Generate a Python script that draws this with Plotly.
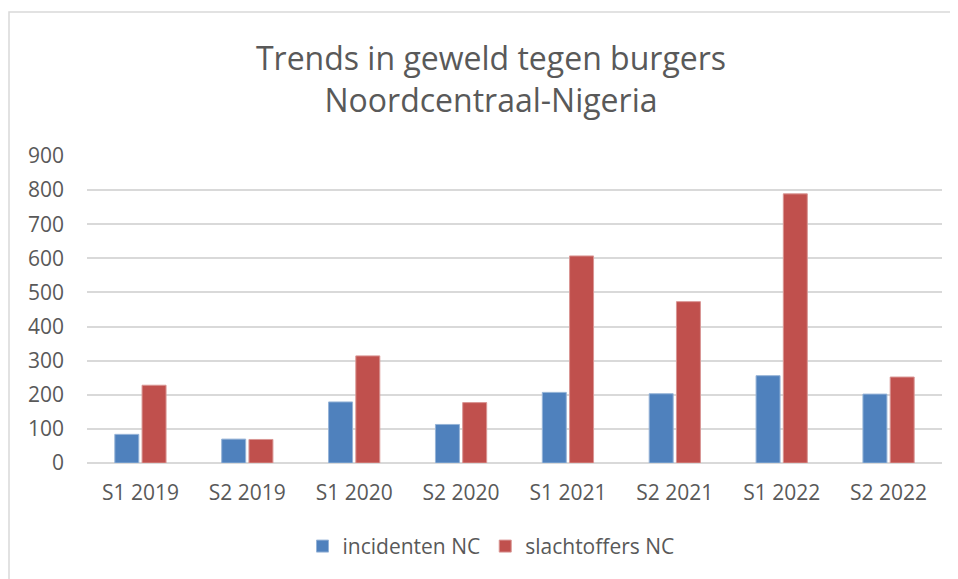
import plotly.graph_objects as go

categories = ["S1 2019", "S2 2019", "S1 2020", "S2 2020", "S1 2021", "S2 2021", "S1 2022", "S2 2022"]
incidenten = [84, 70, 179, 113, 207, 203, 256, 202]
slachtoffers = [228, 69, 314, 177, 607, 473, 789, 252]
y_ticks = [0, 100, 200, 300, 400, 500, 600, 700, 800, 900]

# page body has an 8px margin, so the figure is drawn 8px smaller and left/top targets shifted
OFF = 8
W, H = 958 - OFF, 579 - OFF
L, R, T, B = 87 - OFF, 16, 156 - OFF, 114
pw, ph = W - L - R, H - T - B


def py(y_screen):
    """paper y for a screen y (reference coordinates)"""
    return ((T + ph) - (y_screen - OFF)) / ph


def px(x_screen):
    return ((x_screen - OFF) - L) / pw


fig = go.Figure()
fig.add_trace(go.Bar(name="incidenten NC", x=categories, y=incidenten,
                     marker=dict(color="#4F81BD", line=dict(color="#95B3D7", width=1))))
fig.add_trace(go.Bar(name="slachtoffers NC", x=categories, y=slachtoffers,
                     marker=dict(color="#C0504D", line=dict(color="#D99694", width=1))))

font_family = "Open Sans"
fig.update_layout(
    width=W, height=H,
    margin=dict(l=L, r=R, t=T, b=B),
    paper_bgcolor="white", plot_bgcolor="white",
    barmode="group", bargap=0.49, bargroupgap=0.12,
    font=dict(family=font_family, color="#595959", size=21),
    title=dict(text="Trends in geweld tegen burgers<br>Noordcentraal-Nigeria",
               x=(491 - OFF) / W, xanchor="center", xref="container",
               y=1 - (79 - OFF - 9) / H, yanchor="middle", yref="container",
               font=dict(family=font_family, size=32, color="#595959")),
    legend=dict(orientation="h", x=px(491), xanchor="center",
                y=py(549), yanchor="middle",
                font=dict(size=21, color="#595959"),
                itemwidth=30, tracegroupgap=0),
    xaxis=dict(showgrid=False, showline=False, ticks="", ticklabelstandoff=15,
               tickfont=dict(size=21, color="#595959")),
    yaxis=dict(range=[0, 900], tickvals=y_ticks, showgrid=True, gridcolor="#D9D9D9",
               gridwidth=1.5, zeroline=True, zerolinecolor="#D9D9D9", zerolinewidth=1.5,
               showline=False, ticks="", ticklabelstandoff=22,
               tickfont=dict(size=21, color="#595959")),
    shapes=[dict(type="rect", xref="paper", yref="paper",
                 x0=px(9), x1=px(964),
                 y0=py(585), y1=py(11),
                 line=dict(color="#D9D9D9", width=1.5), fillcolor="rgba(0,0,0,0)", layer="below")],
)

fig.write_html("out.html")
